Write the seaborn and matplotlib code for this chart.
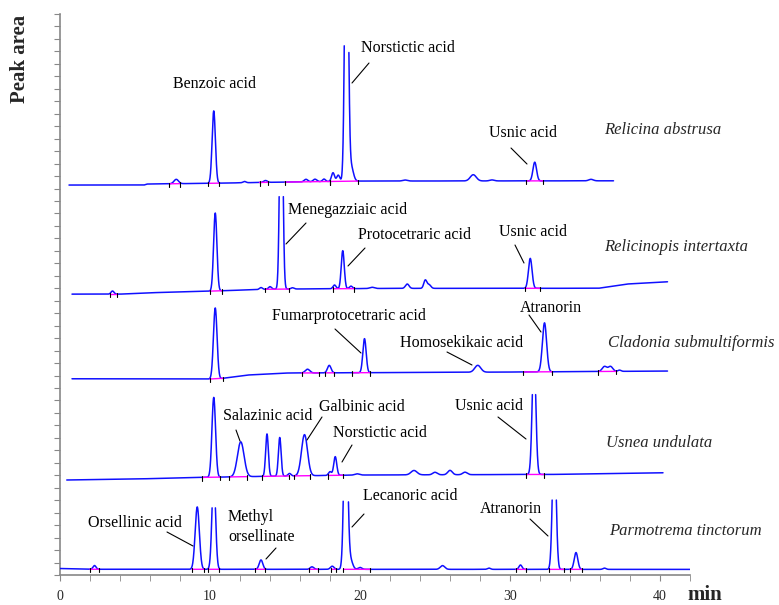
import numpy as np
import pandas as pd
import matplotlib
matplotlib.use("Agg")
import matplotlib.pyplot as plt
import seaborn as sns

# ---------------- data ----------------
species = ["Relicina abstrusa", "Relicinopis intertaxta", "Cladonia submultiformis",
           "Usnea undulata", "Parmotrema tinctorum"]

run_start = [0.6, 0.8, 0.8, 0.45, 0.0]
run_end = [36.9, 40.5, 40.5, 40.2, 42.0]

# baseline knots (time in min, level in axis units)
base1_t = [0.6, 5.6, 5.8, 10.0, 14.0, 20.0, 36.9]
base1_y = [31.28, 31.28, 31.36, 31.42, 31.5, 31.6, 31.62]
base2_t = [0.8, 4.0, 6.0, 10.0, 14.0, 22.0, 35.9, 37.8, 40.5]
base2_y = [22.53, 22.53, 22.64, 22.77, 22.93, 22.99, 23.0, 23.34, 23.52]
base3_t = [0.8, 10.5, 12.5, 15.0, 30.0, 40.5]
base3_y = [15.74, 15.72, 16.04, 16.2, 16.28, 16.36]
base4_t = [0.45, 5.0, 9.5, 15.0, 20.0, 33.0, 40.2]
base4_y = [7.62, 7.70, 7.83, 7.94, 8.02, 8.07, 8.2]
base5_t = [0.0, 2.0, 42.0]
base5_y = [0.52, 0.46, 0.45]

# peaks: retention time (min), height (axis units), width (min), over-range factor
pk1_t = [7.75, 10.25, 12.3, 13.7, 16.4, 17.0, 17.6, 18.2, 18.55, 19.1, 19.4, 23.0, 27.55, 28.8, 31.65, 35.4]
pk1_h = [0.35, 5.8, 0.1, 0.15, 0.2, 0.2, 0.2, 0.7, 0.5, 11.0, 1.2, 0.08, 0.5, 0.08, 1.5, 0.12]
pk1_w = [0.15, 0.11, 0.1, 0.12, 0.12, 0.12, 0.1, 0.1, 0.1, 0.11, 0.15, 0.15, 0.2, 0.15, 0.12, 0.15]
pk1_f = [1, 1, 1, 1, 1, 1, 1, 1, 1, 2.5, 1, 1, 1, 1, 1, 1]

pk2_t = [3.5, 10.35, 13.4, 14.0, 14.75, 15.5, 18.3, 18.85, 19.4, 20.8, 23.15, 24.35, 24.6, 31.35]
pk2_h = [0.25, 6.25, 0.15, 0.2, 7.9, 0.1, 0.3, 3.05, 0.2, 0.1, 0.35, 0.65, 0.3, 2.4]
pk2_w = [0.1, 0.11, 0.1, 0.1, 0.1, 0.1, 0.1, 0.1, 0.1, 0.15, 0.12, 0.1, 0.12, 0.12]
pk2_f = [1, 1, 1, 1, 2.5, 1, 1, 1, 1, 1, 1, 1, 1, 1]

pk3_t = [10.35, 16.5, 17.95, 20.3, 27.85, 32.3, 36.3, 36.7, 37.3]
pk3_h = [5.7, 0.3, 0.6, 2.73, 0.55, 3.93, 0.4, 0.4, 0.1]
pk3_w = [0.12, 0.15, 0.12, 0.11, 0.2, 0.14, 0.15, 0.15, 0.1]
pk3_f = [1, 1, 1, 1, 1, 1, 1, 1, 1]

pk4_t = [10.25, 12.05, 13.8, 14.65, 15.3, 16.3, 18.0, 18.35, 19.8, 23.6, 25.0, 26.0, 27.0, 31.6]
pk4_h = [6.4, 2.8, 3.4, 3.1, 0.2, 3.3, 0.3, 1.5, 0.1, 0.35, 0.2, 0.35, 0.2, 6.5]
pk4_w = [0.12, 0.22, 0.09, 0.09, 0.1, 0.2, 0.1, 0.1, 0.15, 0.2, 0.15, 0.15, 0.15, 0.12]
pk4_f = [1, 1, 1, 1, 1, 1, 1, 1, 1, 1, 1, 1, 1, 1.5]

pk5_t = [2.3, 9.15, 10.25, 13.4, 16.8, 18.15, 19.05, 19.35, 20.0, 25.5, 28.6, 30.7, 32.95, 34.4, 36.3]
pk5_h = [0.3, 5.0, 5.0, 0.75, 0.2, 0.25, 5.95, 0.8, 0.15, 0.3, 0.1, 0.35, 6.1, 1.35, 0.1]
pk5_w = [0.1, 0.14, 0.12, 0.12, 0.12, 0.12, 0.12, 0.15, 0.12, 0.15, 0.1, 0.1, 0.12, 0.12, 0.1]
pk5_f = [1, 1, 1.5, 1, 1, 1, 2.5, 1, 1, 1, 1, 1, 1.8, 1, 1]

# integration windows (min)
int1 = [(7.3, 8.0), (9.9, 10.6), (13.3, 13.9), (15.0, 18.0), (18.0, 19.9), (31.1, 32.2)]
int2 = [(3.3, 3.8), (10.0, 10.8), (13.7, 15.3), (18.2, 19.6), (31.0, 32.0)]
int3 = [(10.0, 10.9), (16.1, 17.3), (17.7, 18.3), (19.5, 20.7), (30.9, 32.8), (35.9, 37.1)]
int4 = [(9.5, 10.7), (11.3, 12.5), (13.5, 15.3), (15.6, 16.7), (17.9, 18.9), (31.1, 32.3)]
int5 = [(2.0, 2.6), (8.8, 9.6), (9.9, 10.6), (13.0, 13.7), (16.6, 17.2), (18.1, 18.4),
        (18.9, 20.7), (30.4, 31.1), (32.6, 33.6), (34.0, 34.8)]

bases = [(base1_t, base1_y), (base2_t, base2_y), (base3_t, base3_y), (base4_t, base4_y), (base5_t, base5_y)]
peaks = [(pk1_t, pk1_h, pk1_w, pk1_f), (pk2_t, pk2_h, pk2_w, pk2_f), (pk3_t, pk3_h, pk3_w, pk3_f),
         (pk4_t, pk4_h, pk4_w, pk4_f), (pk5_t, pk5_h, pk5_w, pk5_f)]
ints = [int1, int2, int3, int4, int5]

x_major = [0, 10, 20, 30, 40]

# ---------------- style ----------------
sns.set_style("white")
plt.rcParams['font.family'] = ['Liberation Serif', 'DejaVu Serif']

W, H = 779, 605
fig = plt.figure(figsize=(W / 100, H / 100), dpi=100)
ax = fig.add_axes([60 / W, 30 / H, 630 / W, 561 / H])
ax.set_xlim(0, 42)
ax.set_ylim(0, 45)


def px(x, y):
    return (x - 60) / 15.0, (575 - y) / 12.467


frames = []
for i, name in enumerate(species):
    t = np.arange(run_start[i], run_end[i] + 1e-9, 0.01)
    bt, by = bases[i]
    base = np.interp(t, bt, by)
    sig = np.zeros_like(t)
    for c, h, w, f in zip(*peaks[i]):
        g = f * np.exp(-0.5 * ((t - c) / w) ** 2)
        sig += h * np.minimum(g, 1.0)
    # over-range parts of a peak leave the detector window: split the trace there
    over = np.zeros_like(t, dtype=bool)
    for c, h, w, f in zip(*peaks[i]):
        if f > 1:
            over |= (np.abs(t - c) < 4 * w) & (sig >= h * 0.999)
    seg = np.cumsum(np.r_[0, np.diff(over.astype(int)) != 0])
    d = pd.DataFrame({"Time": t, "Signal": base + sig, "seg": [f"{name}-{s}" for s in seg]})
    frames.append(d[~over])
df = pd.concat(frames, ignore_index=True)

sns.lineplot(data=df, x="Time", y="Signal", units="seg", estimator=None, sort=False,
             color="#1010FF", linewidth=1.1, ax=ax, legend=False, zorder=3)

# integration baselines and marks
for i in range(5):
    bt, by = bases[i]
    for a, b in ints[i]:
        ya, yb = np.interp(a, bt, by), np.interp(b, bt, by)
        ax.plot([a, b], [ya, yb], color="#FF00FF", lw=1.0, zorder=4)
        ax.plot([a, a], [ya - 0.25, ya + 0.1], color="black", lw=0.8, zorder=4)
        ax.plot([b, b], [yb - 0.25, yb + 0.1], color="black", lw=0.8, zorder=4)

# axes styling
for s in ["top", "right"]:
    ax.spines[s].set_visible(False)
for s in ["left", "bottom"]:
    ax.spines[s].set_color("#888888")
    ax.spines[s].set_linewidth(1.2)
ax.set_xticks(x_major)
ax.set_xticklabels([str(v) for v in x_major], fontsize=10)
ax.set_xticks(np.arange(0, 43, 2), minor=True)
ax.set_yticks(np.arange(0, 46, 1))
ax.set_yticklabels([])
ax.tick_params(axis="x", which="both", direction="out", length=4, color="#888888", pad=7, bottom=True)
ax.tick_params(axis="y", which="both", direction="out", length=4, color="#888888", left=True)
ax.set_xlabel("")
ax.set_ylabel("")

# compound labels: (text, left px, center px, leader line px)
labels = [
    ("Benzoic acid", 173, 84, None),
    ("Norstictic acid", 361, 48, (369, 63, 352, 83)),
    ("Usnic acid", 489, 133, (511, 148, 527, 164)),
    ("Menegazziaic acid", 288, 210, (306, 223, 286, 244)),
    ("Protocetraric acid", 358, 235, (365, 248, 348, 266)),
    ("Usnic acid", 499, 232, (515, 245, 524, 263)),
    ("Fumarprotocetraric acid", 272, 316, (335, 329, 361, 353)),
    ("Homosekikaic acid", 400, 343, (447, 352, 472, 365)),
    ("Atranorin", 520, 308, (529, 315, 541, 332)),
    ("Salazinic acid", 223, 416, (236, 430, 240, 441)),
    ("Galbinic acid", 319, 407, (322, 417, 307, 440)),
    ("Norstictic acid", 333, 433, (352, 445, 342, 462)),
    ("Usnic acid", 455, 406, (498, 417, 526, 439)),
    ("Orsellinic acid", 88, 523, (167, 532, 193, 546)),
    ("Methyl\norsellinate", 228, 527, (276, 548, 266, 559)),
    ("Lecanoric acid", 363, 496, (364, 514, 352, 527)),
    ("Atranorin", 480, 509, (530, 519, 548, 536)),
]
for text, lx, ly, lead in labels:
    x, y = px(lx, ly)
    ax.text(x, y, text, fontsize=11.5, ha="left", va="center", color="black",
            linespacing=1.3, zorder=5)
    if lead is not None:
        x1, y1 = px(lead[0], lead[1])
        x2, y2 = px(lead[2], lead[3])
        ax.plot([x1, x2], [y1, y2], color="black", lw=0.8, zorder=5)

species_pos = [(604, 130), (604, 247), (608, 343), (606, 443), (609, 531)]
for name, (lx, ly) in zip(species, species_pos):
    fig.text(lx / W, 1 - ly / H, name, fontsize=12, style="italic", ha="left", va="center")

fig.text(687 / W, 1 - 595 / H, "min", fontsize=15, fontweight="bold", ha="left", va="center")
fig.text(20 / W, 1 - 59 / H, "Peak area", fontsize=15, fontweight="bold", rotation=90,
         ha="center", va="center")

fig.savefig("out.png", dpi=100)
